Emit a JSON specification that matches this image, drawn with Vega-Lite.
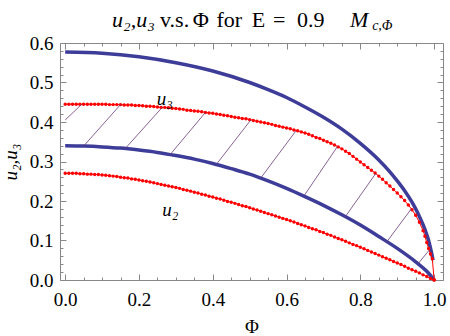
{
  "$schema": "https://vega.github.io/schema/vega-lite/v6.json",
  "width": 383,
  "height": 237,
  "autosize": "none",
  "padding": {"left": 60, "top": 43, "right": 7, "bottom": 56},
  "background": "white",
  "config": {
    "view": {"stroke": "#888888", "strokeWidth": 1},
    "axis": {
      "labelFont": "Liberation Serif, Times New Roman, serif", "labelFontSize": 19, "labelColor": "black",
      "titleFont": "Liberation Serif, Times New Roman, serif", "titleFontSize": 19, "titleFontWeight": "normal", "titleColor": "black",
      "domain": false, "grid": false, "tickColor": "#888888", "tickWidth": 1,
      "labelFlush": false, "labelOverlap": false
    }
  },
  "datasets": {
    "blue": [
      {"curve": "upper", "phi": 0, "u": 0.577}, {"curve": "upper", "phi": 0.1, "u": 0.574},
      {"curve": "upper", "phi": 0.2, "u": 0.565}, {"curve": "upper", "phi": 0.3, "u": 0.55},
      {"curve": "upper", "phi": 0.4, "u": 0.529}, {"curve": "upper", "phi": 0.5, "u": 0.5},
      {"curve": "upper", "phi": 0.55, "u": 0.482}, {"curve": "upper", "phi": 0.6, "u": 0.462},
      {"curve": "upper", "phi": 0.65, "u": 0.438}, {"curve": "upper", "phi": 0.7, "u": 0.412},
      {"curve": "upper", "phi": 0.75, "u": 0.382}, {"curve": "upper", "phi": 0.8, "u": 0.346},
      {"curve": "upper", "phi": 0.85, "u": 0.304}, {"curve": "upper", "phi": 0.88, "u": 0.274},
      {"curve": "upper", "phi": 0.9, "u": 0.251}, {"curve": "upper", "phi": 0.92, "u": 0.226},
      {"curve": "upper", "phi": 0.94, "u": 0.197}, {"curve": "upper", "phi": 0.95, "u": 0.18},
      {"curve": "upper", "phi": 0.96, "u": 0.161}, {"curve": "upper", "phi": 0.97, "u": 0.14},
      {"curve": "upper", "phi": 0.98, "u": 0.115}, {"curve": "upper", "phi": 0.985, "u": 0.1},
      {"curve": "upper", "phi": 0.99, "u": 0.081}, {"curve": "upper", "phi": 0.995, "u": 0.06},
      {"curve": "upper", "phi": 0.997, "u": 0.05},
      {"curve": "lower", "phi": 0, "u": 0.34}, {"curve": "lower", "phi": 0.05, "u": 0.339},
      {"curve": "lower", "phi": 0.1, "u": 0.337}, {"curve": "lower", "phi": 0.15, "u": 0.334},
      {"curve": "lower", "phi": 0.2, "u": 0.329}, {"curve": "lower", "phi": 0.25, "u": 0.323},
      {"curve": "lower", "phi": 0.3, "u": 0.315}, {"curve": "lower", "phi": 0.35, "u": 0.306},
      {"curve": "lower", "phi": 0.4, "u": 0.295}, {"curve": "lower", "phi": 0.45, "u": 0.282},
      {"curve": "lower", "phi": 0.5, "u": 0.268}, {"curve": "lower", "phi": 0.55, "u": 0.251},
      {"curve": "lower", "phi": 0.6, "u": 0.232}, {"curve": "lower", "phi": 0.65, "u": 0.211},
      {"curve": "lower", "phi": 0.7, "u": 0.189}, {"curve": "lower", "phi": 0.75, "u": 0.165},
      {"curve": "lower", "phi": 0.8, "u": 0.139}, {"curve": "lower", "phi": 0.85, "u": 0.11},
      {"curve": "lower", "phi": 0.9, "u": 0.08}, {"curve": "lower", "phi": 0.95, "u": 0.046},
      {"curve": "lower", "phi": 0.98, "u": 0.022}, {"curve": "lower", "phi": 1, "u": 0}
    ],
    "red": [
      {"curve": "u3", "phi": 0, "u": 0.445}, {"curve": "u3", "phi": 0.01, "u": 0.445}, {"curve": "u3", "phi": 0.02, "u": 0.445}, {"curve": "u3", "phi": 0.03, "u": 0.445}, {"curve": "u3", "phi": 0.04, "u": 0.445},
      {"curve": "u3", "phi": 0.05, "u": 0.445}, {"curve": "u3", "phi": 0.06, "u": 0.445}, {"curve": "u3", "phi": 0.07, "u": 0.445}, {"curve": "u3", "phi": 0.08, "u": 0.445}, {"curve": "u3", "phi": 0.09, "u": 0.445},
      {"curve": "u3", "phi": 0.1, "u": 0.445}, {"curve": "u3", "phi": 0.11, "u": 0.445}, {"curve": "u3", "phi": 0.12, "u": 0.444}, {"curve": "u3", "phi": 0.13, "u": 0.444}, {"curve": "u3", "phi": 0.14, "u": 0.444},
      {"curve": "u3", "phi": 0.15, "u": 0.444}, {"curve": "u3", "phi": 0.16, "u": 0.443}, {"curve": "u3", "phi": 0.17, "u": 0.443}, {"curve": "u3", "phi": 0.18, "u": 0.443}, {"curve": "u3", "phi": 0.19, "u": 0.442},
      {"curve": "u3", "phi": 0.2, "u": 0.442}, {"curve": "u3", "phi": 0.21, "u": 0.441}, {"curve": "u3", "phi": 0.22, "u": 0.44}, {"curve": "u3", "phi": 0.23, "u": 0.44}, {"curve": "u3", "phi": 0.24, "u": 0.439},
      {"curve": "u3", "phi": 0.25, "u": 0.438}, {"curve": "u3", "phi": 0.26, "u": 0.437}, {"curve": "u3", "phi": 0.27, "u": 0.437}, {"curve": "u3", "phi": 0.28, "u": 0.436}, {"curve": "u3", "phi": 0.29, "u": 0.435},
      {"curve": "u3", "phi": 0.3, "u": 0.434}, {"curve": "u3", "phi": 0.31, "u": 0.433}, {"curve": "u3", "phi": 0.32, "u": 0.432}, {"curve": "u3", "phi": 0.33, "u": 0.43}, {"curve": "u3", "phi": 0.34, "u": 0.429},
      {"curve": "u3", "phi": 0.35, "u": 0.428}, {"curve": "u3", "phi": 0.36, "u": 0.427}, {"curve": "u3", "phi": 0.37, "u": 0.426}, {"curve": "u3", "phi": 0.38, "u": 0.424}, {"curve": "u3", "phi": 0.39, "u": 0.423},
      {"curve": "u3", "phi": 0.4, "u": 0.422}, {"curve": "u3", "phi": 0.41, "u": 0.42}, {"curve": "u3", "phi": 0.42, "u": 0.419}, {"curve": "u3", "phi": 0.43, "u": 0.417}, {"curve": "u3", "phi": 0.44, "u": 0.416},
      {"curve": "u3", "phi": 0.45, "u": 0.414}, {"curve": "u3", "phi": 0.46, "u": 0.412}, {"curve": "u3", "phi": 0.47, "u": 0.411}, {"curve": "u3", "phi": 0.48, "u": 0.409}, {"curve": "u3", "phi": 0.49, "u": 0.408},
      {"curve": "u3", "phi": 0.5, "u": 0.406}, {"curve": "u3", "phi": 0.51, "u": 0.404}, {"curve": "u3", "phi": 0.52, "u": 0.402}, {"curve": "u3", "phi": 0.53, "u": 0.4}, {"curve": "u3", "phi": 0.54, "u": 0.398},
      {"curve": "u3", "phi": 0.55, "u": 0.396}, {"curve": "u3", "phi": 0.56, "u": 0.394}, {"curve": "u3", "phi": 0.57, "u": 0.391}, {"curve": "u3", "phi": 0.58, "u": 0.389}, {"curve": "u3", "phi": 0.59, "u": 0.387},
      {"curve": "u3", "phi": 0.6, "u": 0.385}, {"curve": "u3", "phi": 0.61, "u": 0.383}, {"curve": "u3", "phi": 0.62, "u": 0.38}, {"curve": "u3", "phi": 0.63, "u": 0.378}, {"curve": "u3", "phi": 0.64, "u": 0.375},
      {"curve": "u3", "phi": 0.65, "u": 0.372}, {"curve": "u3", "phi": 0.66, "u": 0.369}, {"curve": "u3", "phi": 0.67, "u": 0.365}, {"curve": "u3", "phi": 0.68, "u": 0.361}, {"curve": "u3", "phi": 0.69, "u": 0.358},
      {"curve": "u3", "phi": 0.7, "u": 0.354}, {"curve": "u3", "phi": 0.71, "u": 0.35}, {"curve": "u3", "phi": 0.72, "u": 0.346}, {"curve": "u3", "phi": 0.73, "u": 0.342}, {"curve": "u3", "phi": 0.74, "u": 0.337},
      {"curve": "u3", "phi": 0.75, "u": 0.332}, {"curve": "u3", "phi": 0.76, "u": 0.326}, {"curve": "u3", "phi": 0.77, "u": 0.32}, {"curve": "u3", "phi": 0.78, "u": 0.313}, {"curve": "u3", "phi": 0.79, "u": 0.306},
      {"curve": "u3", "phi": 0.8, "u": 0.299}, {"curve": "u3", "phi": 0.81, "u": 0.292}, {"curve": "u3", "phi": 0.82, "u": 0.285}, {"curve": "u3", "phi": 0.83, "u": 0.278}, {"curve": "u3", "phi": 0.84, "u": 0.271},
      {"curve": "u3", "phi": 0.85, "u": 0.263}, {"curve": "u3", "phi": 0.86, "u": 0.255}, {"curve": "u3", "phi": 0.87, "u": 0.246}, {"curve": "u3", "phi": 0.88, "u": 0.238}, {"curve": "u3", "phi": 0.89, "u": 0.229},
      {"curve": "u3", "phi": 0.9, "u": 0.22}, {"curve": "u3", "phi": 0.91, "u": 0.211}, {"curve": "u3", "phi": 0.92, "u": 0.201}, {"curve": "u3", "phi": 0.93, "u": 0.19}, {"curve": "u3", "phi": 0.94, "u": 0.178},
      {"curve": "u3", "phi": 0.95, "u": 0.164}, {"curve": "u3", "phi": 0.96, "u": 0.146}, {"curve": "u3", "phi": 0.97, "u": 0.125}, {"curve": "u3", "phi": 0.975, "u": 0.111}, {"curve": "u3", "phi": 0.98, "u": 0.095},
      {"curve": "u3", "phi": 0.985, "u": 0.08}, {"curve": "u3", "phi": 0.99, "u": 0.066}, {"curve": "u3", "phi": 0.995, "u": 0.054}, {"curve": "u3", "phi": 1, "u": 0},
      {"curve": "u2", "phi": 0, "u": 0.27}, {"curve": "u2", "phi": 0.01, "u": 0.27}, {"curve": "u2", "phi": 0.02, "u": 0.27}, {"curve": "u2", "phi": 0.03, "u": 0.27}, {"curve": "u2", "phi": 0.04, "u": 0.269},
      {"curve": "u2", "phi": 0.05, "u": 0.269}, {"curve": "u2", "phi": 0.06, "u": 0.268}, {"curve": "u2", "phi": 0.07, "u": 0.268}, {"curve": "u2", "phi": 0.08, "u": 0.267}, {"curve": "u2", "phi": 0.09, "u": 0.267},
      {"curve": "u2", "phi": 0.1, "u": 0.266}, {"curve": "u2", "phi": 0.11, "u": 0.265}, {"curve": "u2", "phi": 0.12, "u": 0.264}, {"curve": "u2", "phi": 0.13, "u": 0.263}, {"curve": "u2", "phi": 0.14, "u": 0.262},
      {"curve": "u2", "phi": 0.15, "u": 0.26}, {"curve": "u2", "phi": 0.16, "u": 0.259}, {"curve": "u2", "phi": 0.17, "u": 0.258}, {"curve": "u2", "phi": 0.18, "u": 0.256}, {"curve": "u2", "phi": 0.19, "u": 0.255},
      {"curve": "u2", "phi": 0.2, "u": 0.253}, {"curve": "u2", "phi": 0.21, "u": 0.251}, {"curve": "u2", "phi": 0.22, "u": 0.25}, {"curve": "u2", "phi": 0.23, "u": 0.248}, {"curve": "u2", "phi": 0.24, "u": 0.246},
      {"curve": "u2", "phi": 0.25, "u": 0.244}, {"curve": "u2", "phi": 0.26, "u": 0.242}, {"curve": "u2", "phi": 0.27, "u": 0.24}, {"curve": "u2", "phi": 0.28, "u": 0.238}, {"curve": "u2", "phi": 0.29, "u": 0.236},
      {"curve": "u2", "phi": 0.3, "u": 0.234}, {"curve": "u2", "phi": 0.31, "u": 0.232}, {"curve": "u2", "phi": 0.32, "u": 0.229}, {"curve": "u2", "phi": 0.33, "u": 0.227}, {"curve": "u2", "phi": 0.34, "u": 0.225},
      {"curve": "u2", "phi": 0.35, "u": 0.222}, {"curve": "u2", "phi": 0.36, "u": 0.22}, {"curve": "u2", "phi": 0.37, "u": 0.217}, {"curve": "u2", "phi": 0.38, "u": 0.215}, {"curve": "u2", "phi": 0.39, "u": 0.212},
      {"curve": "u2", "phi": 0.4, "u": 0.21}, {"curve": "u2", "phi": 0.41, "u": 0.207}, {"curve": "u2", "phi": 0.42, "u": 0.205}, {"curve": "u2", "phi": 0.43, "u": 0.202}, {"curve": "u2", "phi": 0.44, "u": 0.199},
      {"curve": "u2", "phi": 0.45, "u": 0.197}, {"curve": "u2", "phi": 0.46, "u": 0.194}, {"curve": "u2", "phi": 0.47, "u": 0.191}, {"curve": "u2", "phi": 0.48, "u": 0.188}, {"curve": "u2", "phi": 0.49, "u": 0.186},
      {"curve": "u2", "phi": 0.5, "u": 0.183}, {"curve": "u2", "phi": 0.51, "u": 0.18}, {"curve": "u2", "phi": 0.52, "u": 0.177}, {"curve": "u2", "phi": 0.53, "u": 0.174}, {"curve": "u2", "phi": 0.54, "u": 0.171},
      {"curve": "u2", "phi": 0.55, "u": 0.168}, {"curve": "u2", "phi": 0.56, "u": 0.165}, {"curve": "u2", "phi": 0.57, "u": 0.162}, {"curve": "u2", "phi": 0.58, "u": 0.159}, {"curve": "u2", "phi": 0.59, "u": 0.156},
      {"curve": "u2", "phi": 0.6, "u": 0.153}, {"curve": "u2", "phi": 0.61, "u": 0.15}, {"curve": "u2", "phi": 0.62, "u": 0.147}, {"curve": "u2", "phi": 0.63, "u": 0.143}, {"curve": "u2", "phi": 0.64, "u": 0.14},
      {"curve": "u2", "phi": 0.65, "u": 0.137}, {"curve": "u2", "phi": 0.66, "u": 0.133}, {"curve": "u2", "phi": 0.67, "u": 0.13}, {"curve": "u2", "phi": 0.68, "u": 0.127}, {"curve": "u2", "phi": 0.69, "u": 0.123},
      {"curve": "u2", "phi": 0.7, "u": 0.12}, {"curve": "u2", "phi": 0.71, "u": 0.116}, {"curve": "u2", "phi": 0.72, "u": 0.113}, {"curve": "u2", "phi": 0.73, "u": 0.109}, {"curve": "u2", "phi": 0.74, "u": 0.105},
      {"curve": "u2", "phi": 0.75, "u": 0.102}, {"curve": "u2", "phi": 0.76, "u": 0.098}, {"curve": "u2", "phi": 0.77, "u": 0.094}, {"curve": "u2", "phi": 0.78, "u": 0.09}, {"curve": "u2", "phi": 0.79, "u": 0.087},
      {"curve": "u2", "phi": 0.8, "u": 0.083}, {"curve": "u2", "phi": 0.81, "u": 0.079}, {"curve": "u2", "phi": 0.82, "u": 0.075}, {"curve": "u2", "phi": 0.83, "u": 0.071}, {"curve": "u2", "phi": 0.84, "u": 0.067},
      {"curve": "u2", "phi": 0.85, "u": 0.063}, {"curve": "u2", "phi": 0.86, "u": 0.059}, {"curve": "u2", "phi": 0.87, "u": 0.055}, {"curve": "u2", "phi": 0.88, "u": 0.051}, {"curve": "u2", "phi": 0.89, "u": 0.047},
      {"curve": "u2", "phi": 0.9, "u": 0.043}, {"curve": "u2", "phi": 0.91, "u": 0.039}, {"curve": "u2", "phi": 0.92, "u": 0.035}, {"curve": "u2", "phi": 0.93, "u": 0.03}, {"curve": "u2", "phi": 0.94, "u": 0.026},
      {"curve": "u2", "phi": 0.95, "u": 0.022}, {"curve": "u2", "phi": 0.96, "u": 0.018}, {"curve": "u2", "phi": 0.97, "u": 0.013}, {"curve": "u2", "phi": 0.98, "u": 0.009}, {"curve": "u2", "phi": 0.99, "u": 0.004},
      {"curve": "u2", "phi": 1, "u": 0}
    ],
    "hatch": [
      {"phi": 0, "u": 0.405, "phi2": 0.045, "u2": 0.445},
      {"phi": 0.05, "u": 0.339, "phi2": 0.15, "u2": 0.444},
      {"phi": 0.163, "u": 0.333, "phi2": 0.263, "u2": 0.437},
      {"phi": 0.284, "u": 0.317, "phi2": 0.38, "u2": 0.424},
      {"phi": 0.41, "u": 0.293, "phi2": 0.503, "u2": 0.405},
      {"phi": 0.53, "u": 0.258, "phi2": 0.625, "u2": 0.377},
      {"phi": 0.648, "u": 0.214, "phi2": 0.738, "u2": 0.338},
      {"phi": 0.759, "u": 0.16, "phi2": 0.842, "u2": 0.27},
      {"phi": 0.872, "u": 0.097, "phi2": 0.938, "u2": 0.18},
      {"phi": 0.957, "u": 0.042, "phi2": 0.987, "u2": 0.076}
    ],
    "labels": [
      {"phi": 0.27, "u": 0.458, "text": "u₃"},
      {"phi": 0.285, "u": 0.178, "text": "u₂"}
    ],
    "titleItalic": [
      {"phi": 0.127, "u": 0.641, "text": "u₂,u₃"},
      {"phi": 0.772, "u": 0.641, "text": "M"}
    ],
    "titleRoman": [
      {"phi": 0.257, "u": 0.641, "text": "v.s."},
      {"phi": 0.346, "u": 0.641, "text": "Φ"},
      {"phi": 0.41, "u": 0.641, "text": "for"},
      {"phi": 0.506, "u": 0.641, "text": "E"},
      {"phi": 0.563, "u": 0.641, "text": "="},
      {"phi": 0.628, "u": 0.641, "text": "0.9"}
    ],
    "sub": [
      {"phi": 0.832, "u": 0.633, "text": "c,Φ"}
    ]
  },
  "layer": [
    {
      "data": {"name": "blue"},
      "mark": {"type": "line", "color": "#3d3d99", "strokeWidth": 3.5, "interpolate": "monotone"},
      "encoding": {
        "x": {"field": "phi", "type": "quantitative", "scale": {"domain": [-0.014, 1.024], "nice": false, "zero": false},
              "axis": {"orient": "bottom", "values": [0, 0.2, 0.4, 0.6, 0.8, 1], "format": ".1f", "tickSize": -6, "labelPadding": 16, "title": "Φ", "titlePadding": 8}},
        "y": {"field": "u", "type": "quantitative", "scale": {"domain": [0, 0.6], "nice": false, "zero": false},
              "axis": {"orient": "left", "values": [0, 0.1, 0.2, 0.3, 0.4, 0.5, 0.6], "format": ".1f", "tickSize": -6, "labelPadding": 13, "title": "u₂,u₃", "titleFontStyle": "italic", "titlePadding": 9}},
        "detail": {"field": "curve"}
      }
    },
    {
      "data": {"name": "red"},
      "mark": {"type": "line", "color": "#ff0000", "strokeWidth": 1},
      "encoding": {
        "x": {"field": "phi", "type": "quantitative", "axis": {"orient": "top", "values": [0, 0.2, 0.4, 0.6, 0.8, 1], "labels": false, "tickSize": -6, "title": null}},
        "y": {"field": "u", "type": "quantitative", "axis": {"orient": "right", "values": [0, 0.1, 0.2, 0.3, 0.4, 0.5, 0.6], "labels": false, "tickSize": -6, "title": null}},
        "detail": {"field": "curve"}
      }
    },
    {
      "data": {"name": "red"},
      "mark": {"type": "circle", "color": "#ff0000", "size": 12, "opacity": 1},
      "encoding": {
        "x": {"field": "phi", "type": "quantitative", "axis": {"orient": "bottom", "values": [0.05, 0.1, 0.15, 0.25, 0.3, 0.35, 0.45, 0.5, 0.55, 0.65, 0.7, 0.75, 0.85, 0.9, 0.95], "labels": false, "tickSize": -3, "title": null}},
        "y": {"field": "u", "type": "quantitative", "axis": {"orient": "left", "values": [0.02, 0.04, 0.06, 0.08, 0.12, 0.14, 0.16, 0.18, 0.22, 0.24, 0.26, 0.28, 0.32, 0.34, 0.36, 0.38, 0.42, 0.44, 0.46, 0.48, 0.52, 0.54, 0.56, 0.58], "labels": false, "tickSize": -3, "title": null}}
      }
    },
    {
      "data": {"name": "hatch"},
      "mark": {"type": "rule", "color": "#6a3a78", "strokeWidth": 0.8},
      "encoding": {
        "x": {"field": "phi", "type": "quantitative", "axis": {"orient": "top", "values": [0.05, 0.1, 0.15, 0.25, 0.3, 0.35, 0.45, 0.5, 0.55, 0.65, 0.7, 0.75, 0.85, 0.9, 0.95], "labels": false, "tickSize": -3, "title": null}},
        "y": {"field": "u", "type": "quantitative", "axis": {"orient": "right", "values": [0.02, 0.04, 0.06, 0.08, 0.12, 0.14, 0.16, 0.18, 0.22, 0.24, 0.26, 0.28, 0.32, 0.34, 0.36, 0.38, 0.42, 0.44, 0.46, 0.48, 0.52, 0.54, 0.56, 0.58], "labels": false, "tickSize": -3, "title": null}},
        "x2": {"field": "phi2"},
        "y2": {"field": "u2"}
      }
    },
    {
      "data": {"name": "labels"},
      "mark": {"type": "text", "font": "Liberation Serif, Times New Roman, serif", "fontSize": 19, "fontStyle": "italic", "color": "black", "align": "center", "baseline": "middle"},
      "encoding": {
        "x": {"field": "phi", "type": "quantitative", "axis": null},
        "y": {"field": "u", "type": "quantitative", "axis": null},
        "text": {"field": "text"}
      }
    },
    {
      "data": {"name": "titleItalic"},
      "mark": {"type": "text", "font": "Liberation Serif, Times New Roman, serif", "fontSize": 22, "fontStyle": "italic", "color": "black", "align": "left", "baseline": "alphabetic"},
      "encoding": {
        "x": {"field": "phi", "type": "quantitative", "axis": null},
        "y": {"field": "u", "type": "quantitative", "axis": null},
        "text": {"field": "text"}
      }
    },
    {
      "data": {"name": "titleRoman"},
      "mark": {"type": "text", "font": "Liberation Serif, Times New Roman, serif", "fontSize": 22, "color": "black", "align": "left", "baseline": "alphabetic"},
      "encoding": {
        "x": {"field": "phi", "type": "quantitative", "axis": null},
        "y": {"field": "u", "type": "quantitative", "axis": null},
        "text": {"field": "text"}
      }
    },
    {
      "data": {"name": "sub"},
      "mark": {"type": "text", "font": "Liberation Serif, Times New Roman, serif", "fontSize": 14, "fontStyle": "italic", "color": "black", "align": "left", "baseline": "alphabetic"},
      "encoding": {
        "x": {"field": "phi", "type": "quantitative", "axis": null},
        "y": {"field": "u", "type": "quantitative", "axis": null},
        "text": {"field": "text"}
      }
    }
  ],
  "resolve": {"axis": {"x": "independent", "y": "independent"}}
}
